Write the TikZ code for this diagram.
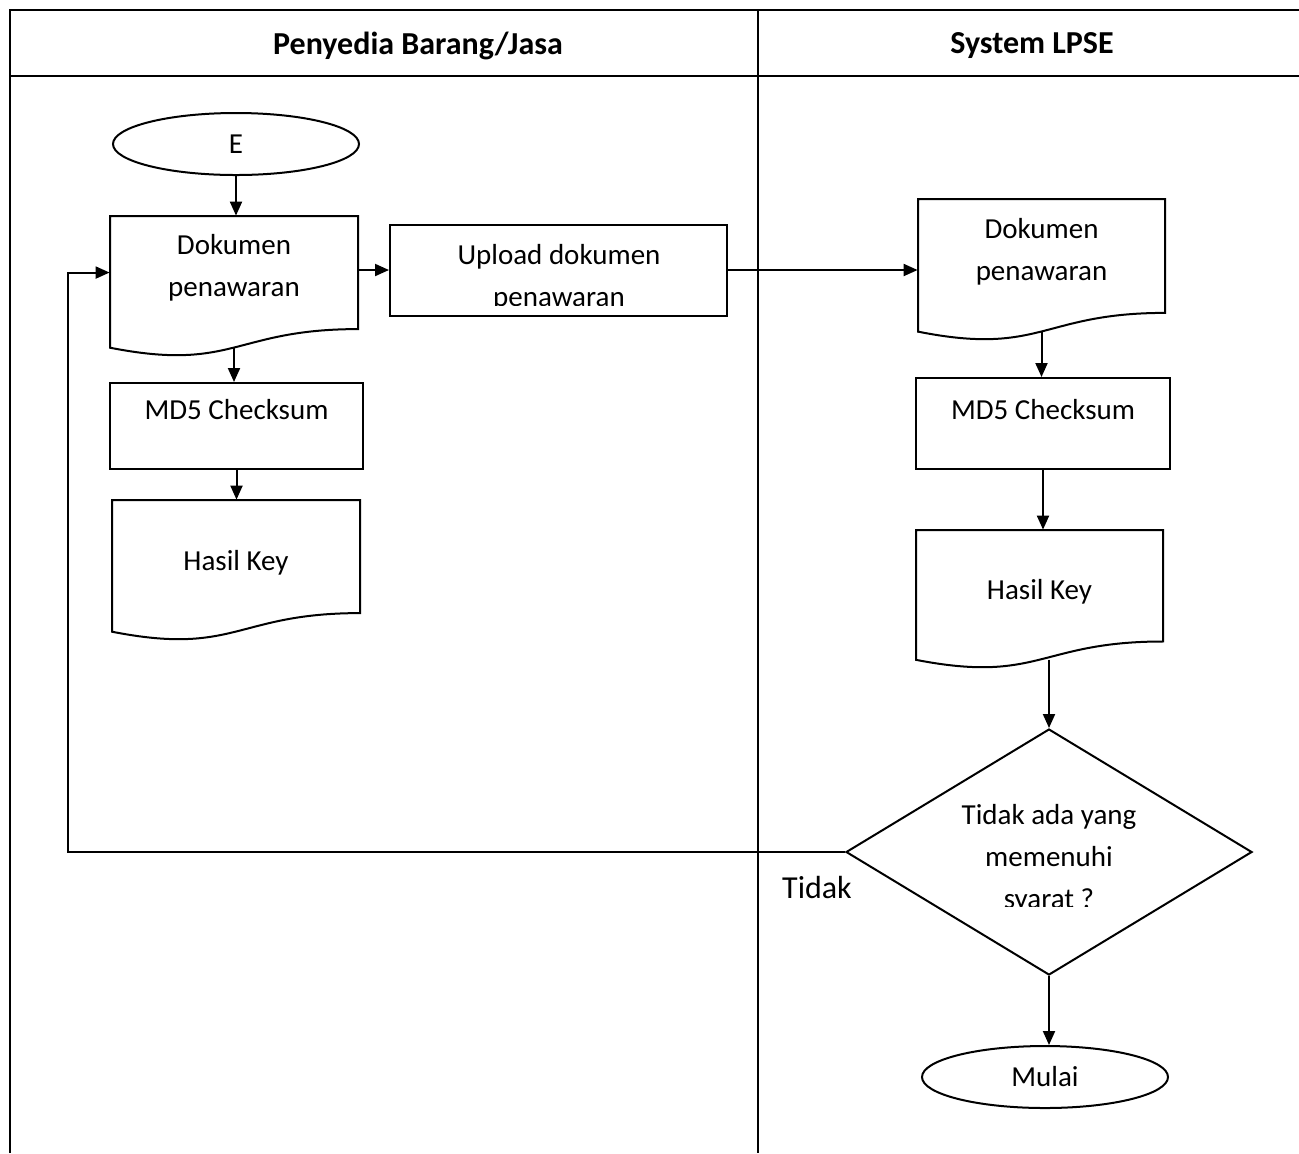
\documentclass[tikz,border=0pt]{standalone}
\usepackage{fontspec}
\setmainfont{Carlito}
\usetikzlibrary{shapes.geometric,arrows.meta}
\newcommand*{\DocShape}[7]{% #1 = name, #2/#3 = top left, #4/#5 = width/height, #6 = text y, #7 = text
  \pgfmathsetmacro{\docR}{#2+#4}
  \pgfmathsetmacro{\docM}{#2+0.5*#4}
  \pgfmathsetmacro{\docYR}{#3+0.802*#5}
  \pgfmathsetmacro{\docYC}{#3+1.107*#5}
  \pgfmathsetmacro{\docYL}{#3+0.934*#5}
  \pgfmathsetmacro{\docYW}{#3+0.933*#5}
  \pgfmathsetmacro{\docYN}{#3+0.401*#5}
  \draw[outline] (#2,#3) -- (\docR,#3) -- (\docR,\docYR)
    .. controls (\docM,\docYR) and (\docM,\docYC) .. (#2,\docYL) -- cycle;
  \node [inner sep=0, minimum width=#4*0.5pt, minimum height=0.802*#5*0.5pt] (#1) at (\docM,\docYN) {};
  \coordinate (#1-wave) at (\docM,\docYW);
  \node [txt] (#1-text) at (\docM,#6) {#7};
}
\tikzset{
  lane/.style={line width=1.1pt},
  outline/.style={line width=1pt},
  txt/.style={align=center, inner sep=0, font=\fontsize{14.5}{21}\selectfont},
  head/.style={inner sep=0, font=\fontsize{16}{19}\selectfont\bfseries},
  term/.style={ellipse, draw, outline, inner sep=0, minimum width=123pt, minimum height=31pt,
    font=\fontsize{14.5}{21}\selectfont},
  proc/.style={rectangle, draw, outline, inner sep=0},
  cond/.style={diamond, draw, outline, inner sep=0, aspect=1.65, minimum width=203pt, minimum height=123pt},
  flow/.style={outline, -{Triangle[length=7pt,width=6pt]}}
}
\begin{document}
\begin{tikzpicture}[x=0.5pt, y=-0.5pt]
    \useasboundingbox (0,0) rectangle (1299,1153);
    % swimlanes
    \draw[lane] (10,1153) -- (10,10) -- (1299,10);
    \draw[lane] (10,76) -- (1299,76);
    \draw[lane] (758,10) -- (758,1153);
    \node[head] (penyedia) at (418,46) {Penyedia Barang/Jasa};
    \node[head] (lpse) at (1032,46) {System LPSE};

    % Penyedia Barang/Jasa
    \node[term] (e) at (236,144) {E};
    \DocShape{doka}{110}{216}{248}{141}{268}{Dokumen\\penawaran}
    \node[proc, minimum width=126.5pt, minimum height=43pt,
      label={[txt, anchor=north, yshift=-8.5pt]north:MD5 Checksum}] (md5a) at (236.5,426) {};
    \DocShape{hasila}{112}{500}{248}{141}{563}{Hasil Key}
    \node[proc, minimum width=168.5pt, minimum height=45.5pt] (upload) at (558.5,270) {};
    \begin{scope}
        \clip (390,225) rectangle (727,305);
        \node[txt] (upload-text) at (559,278) {Upload dokumen\\penawaran};
    \end{scope}

    % System LPSE
    \DocShape{dokb}{918}{199}{247}{142}{252}{Dokumen\\penawaran}
    \node[proc, minimum width=127pt, minimum height=45.5pt,
      label={[txt, anchor=north, yshift=-11pt]north:MD5 Checksum}] (md5b) at (1043,423.5) {};
    \DocShape{hasilb}{916}{530}{247}{139}{592}{Hasil Key}
    \node[cond] (syarat) at (1049,852) {};
    \begin{scope}
        \clip (846,729) rectangle (1252,906);
        \node[txt] (syarat-text) at (1049,859) {Tidak ada yang\\memenuhi\\syarat ?};
    \end{scope}
    \node[term] (mulai) at (1045,1077) {Mulai};
    \node[inner sep=0, font=\fontsize{16}{19}\selectfont] (tidak) at (817,887) {Tidak};

    % connectors
    \draw[flow] (e.south) -- (e.south |- doka.north);
    \draw[flow] (doka-wave) -- (doka-wave |- md5a.north);
    \draw[flow] (md5a.south) -- (md5a.south |- hasila.north);
    \draw[flow] (doka.east |- upload.west) -- (upload.west);
    \draw[flow] (upload.east) -- (upload.east -| dokb.west);
    \draw[flow] (dokb-wave) -- (dokb-wave |- md5b.north);
    \draw[flow] (md5b.south) -- (md5b.south |- hasilb.north);
    \draw[flow] (syarat.north |- hasilb-wave) -- (syarat.north);
    \draw[flow] (syarat.south) -- (syarat.south |- mulai.north);
    \coordinate (back) at (68,852);
    \draw[flow] (syarat.west) -- (back) |- (doka.west);
\end{tikzpicture}
\end{document}
